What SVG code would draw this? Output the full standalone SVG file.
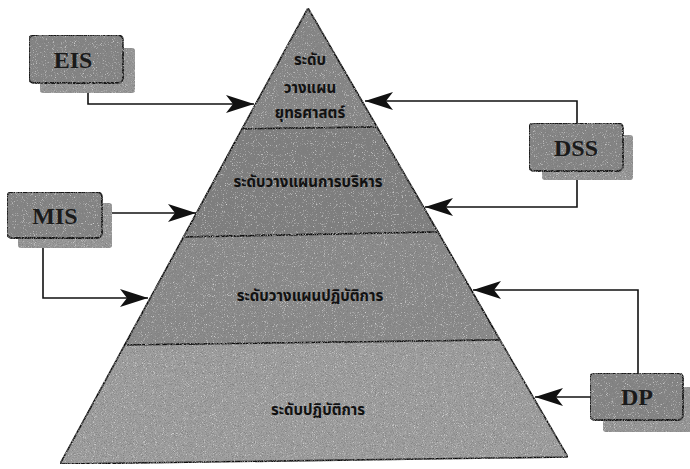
<svg xmlns="http://www.w3.org/2000/svg" width="690" height="469" viewBox="0 0 690 469">
  <style>
    .layer { stroke: #111; stroke-width: 1.6; stroke-linejoin: round; }
    .lvl { font-family: "Noto Sans Thai", "Noto Sans", "DejaVu Sans", sans-serif; font-size: 15px; font-weight: bold; fill: #111; text-anchor: middle; }
    .box { fill: #858585; stroke: #151515; stroke-width: 1.8; }
    .shadow { fill: #999999; }
    .tag { font-family: "Liberation Serif", "Times New Roman", serif; font-size: 24px; font-weight: bold; fill: #1a1a1a; text-anchor: middle; }
    .link { fill: none; stroke: #111; stroke-width: 1.6; marker-end: url(#head); }
    .grainy { filter: url(#grain); }
  </style>
  <defs>
    <!-- notched, filled arrowhead used by every connector -->
    <marker id="head" markerUnits="userSpaceOnUse" viewBox="-30 -10 32 20" refX="0" refY="0" markerWidth="32" markerHeight="20" orient="auto">
      <path d="M0,0 L-28,-9 L-21,0 L-28,9 Z" fill="#111"/>
    </marker>
    <!-- grainy print texture for the grey fills: dark and light speckles inside the shape -->
    <filter id="grain" x="0" y="0" width="100%" height="100%">
      <feTurbulence type="fractalNoise" baseFrequency="1.1" numOctaves="2" seed="7" result="n"/>
      <feColorMatrix in="n" type="matrix" values="0 0 0 0 0.2  0 0 0 0 0.2  0 0 0 0 0.2  2.4 0 0 0 -1.05" result="dark"/>
      <feColorMatrix in="n" type="matrix" values="0 0 0 0 0.85  0 0 0 0 0.85  0 0 0 0 0.85  0 -2.4 0 0 0.95" result="light"/>
      <feMerge result="dots"><feMergeNode in="dark"/><feMergeNode in="light"/></feMerge>
      <feComposite in="dots" in2="SourceGraphic" operator="in" result="clip"/>
      <feMerge><feMergeNode in="SourceGraphic"/><feMergeNode in="clip"/></feMerge>
    </filter>
  </defs>

  <rect width="690" height="469" fill="#ffffff"/>

  <!-- pyramid of management levels -->
  <g id="pyramid" class="grainy">
    <g id="level-strategic">
      <polygon class="layer" points="308,8 377,127 242,129" fill="#878787"/>
    </g>
    <g id="level-management">
      <polygon class="layer" points="242,129 377,127 438,232 183.5,237" fill="#7f7f7f"/>
    </g>
    <g id="level-operational-planning">
      <polygon class="layer" points="183.5,237 438,232 500,340 124.7,345" fill="#8b8b8b"/>
    </g>
    <g id="level-operations">
      <polygon class="layer" points="124.7,345 500,340 568,457 60,464" fill="#a0a0a0"/>
    </g>
  </g>

  <!-- level labels -->
  <g id="labels">
    <text class="lvl" x="310" y="65">ระดับ</text>
    <text class="lvl" x="310" y="93">วางแผน</text>
    <text class="lvl" x="310" y="118">ยุทธศาสตร์</text>
    <text class="lvl" x="308" y="187">ระดับวางแผนการบริหาร</text>
    <text class="lvl" x="310" y="301">ระดับวางแผนปฏิบัติการ</text>
    <text class="lvl" x="318" y="415">ระดับปฏิบัติการ</text>
  </g>

  <!-- connectors -->
  <g id="connectors">
    <path class="link" d="M88,83 V104 H254"/>
    <path class="link" d="M577,123 V101 H365"/>
    <path class="link" d="M577,171 V207 H425"/>
    <path class="link" d="M112,213 H196"/>
    <path class="link" d="M43,238 V298 H148"/>
    <path class="link" d="M638,373 V290 H473"/>
    <path class="link" d="M590,397 H535"/>
  </g>

  <!-- information system boxes -->
  <g id="EIS">
    <g class="grainy">
      <rect class="shadow" x="40" y="48" width="95" height="45" rx="3"/>
      <rect class="box" x="29" y="35" width="94" height="48" rx="5"/>
    </g>
    <text class="tag" x="73" y="68">EIS</text>
  </g>
  <g id="MIS">
    <g class="grainy">
      <rect class="shadow" x="18" y="203" width="94" height="45" rx="3"/>
      <rect class="box" x="7" y="192" width="95" height="46" rx="5"/>
    </g>
    <text class="tag" x="55" y="224">MIS</text>
  </g>
  <g id="DSS">
    <g class="grainy">
      <rect class="shadow" x="542" y="135" width="91" height="45" rx="3"/>
      <rect class="box" x="529" y="123" width="94" height="48" rx="5"/>
    </g>
    <text class="tag" x="576" y="156">DSS</text>
  </g>
  <g id="DP">
    <g class="grainy">
      <rect class="shadow" x="603" y="387" width="90" height="45" rx="3"/>
      <rect class="box" x="590" y="373" width="93" height="47" rx="5"/>
    </g>
    <text class="tag" x="637" y="405">DP</text>
  </g>
</svg>
